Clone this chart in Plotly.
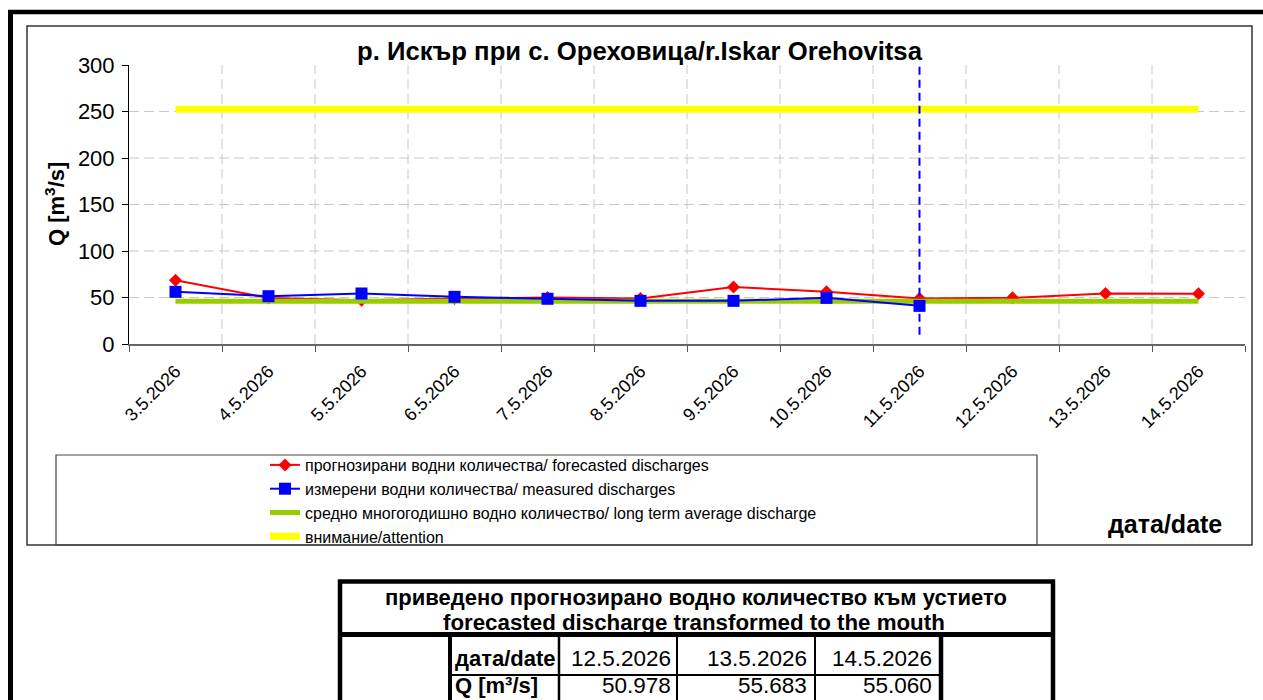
import plotly.graph_objects as go

# ---------------- data ----------------
dates = ["3.5.2026", "4.5.2026", "5.5.2026", "6.5.2026", "7.5.2026", "8.5.2026",
         "9.5.2026", "10.5.2026", "11.5.2026", "12.5.2026", "13.5.2026", "14.5.2026"]
forecast = [68.5, 49.5, 47.0, 49.0, 50.0, 49.0, 61.4, 56.1, 48.9, 49.6, 54.3, 53.9]
measured = [56.1, 51.4, 54.3, 50.7, 48.6, 46.4, 46.4, 49.6, 41.0, None, None, None]
average = [46.0, 46.0, 46.0, 46.0, 46.0, 46.0, 46.0, 46.0, 46.0, 46.0, 46.0, 46.0]
attention = [252.5, 252.5, 252.5, 252.5, 252.5, 252.5, 252.5, 252.5, 252.5, 252.5, 252.5, 252.5]
today = "11.5.2026"
today_span = [10, 300]

table_dates = ["12.5.2026", "13.5.2026", "14.5.2026"]
table_q = ["50.978", "55.683", "55.060"]

names = ["прогнозирани водни количества/ forecasted discharges",
         "измерени водни количества/ measured discharges",
         "средно многогодишно водно количество/ long term average discharge",
         "внимание/attention"]

# ---------------- layout geometry (pixels) ----------------
W, H = 1263, 700
L, R, T, B = 129, 1245, 65, 344


def px(x):
    return (x - L) / (R - L)


def py(y):
    return (B - y) / (B - T)


FONT = "Arial, Liberation Sans, sans-serif"

fig = go.Figure()

fig.add_trace(go.Scatter(x=dates, y=attention, mode="lines", name=names[3],
                         line=dict(color="#ffff00", width=7), legendrank=4))
fig.add_trace(go.Scatter(x=dates, y=forecast, mode="lines+markers", name=names[0],
                         line=dict(color="#ff0000", width=2),
                         marker=dict(symbol="diamond", size=10, color="#ff0000"),
                         legendrank=1))
fig.add_trace(go.Scatter(x=dates, y=average, mode="lines", name=names[2],
                         line=dict(color="#99cc00", width=5), legendrank=3))
fig.add_trace(go.Scatter(x=dates, y=measured, mode="lines+markers", name=names[1],
                         line=dict(color="#0000ff", width=2),
                         marker=dict(symbol="square", size=12, color="#0000ff"),
                         legendrank=2))
fig.add_trace(go.Scatter(x=[today, today], y=today_span, mode="lines", showlegend=False,
                         line=dict(color="#0000ff", width=2, dash="8px,5px"),
                         hoverinfo="skip"))

fig.update_layout(
    width=W, height=H,
    margin=dict(l=L, r=W - R, t=T, b=H - B),
    paper_bgcolor="white", plot_bgcolor="white",
    font=dict(family=FONT, color="black"),
    showlegend=True,
    legend=dict(x=px(265), y=py(448), xanchor="left", yanchor="top",
                font=dict(size=16, family=FONT), bgcolor="rgba(0,0,0,0)",
                traceorder="normal"),
)

fig.update_xaxes(type="category", range=[-0.5, 11.5], tickson="boundaries",
                 ticks="outside", ticklen=6, tickcolor="#555555", tickwidth=1,
                 showline=True, linecolor="#666666", linewidth=1.5,
                 showgrid=False,
                 tickangle=-45, tickfont=dict(size=18, family=FONT),
                 ticklabelstandoff=8)
fig.update_yaxes(range=[0, 300], dtick=50, ticks="outside", ticklen=6,
                 tickcolor="black", showline=True, linecolor="black", linewidth=1,
                 showgrid=False, zeroline=False, tickfont=dict(size=22, family=FONT),
                 ticklabelstandoff=3)

shapes = []
GRID = dict(color="#c8c8c8", width=1, dash="10px,5px")
# horizontal dashed grid
for v in [50, 100, 150, 200, 250]:
    shapes.append(dict(type="line", xref="paper", yref="y", x0=0, x1=1, y0=v, y1=v,
                       line=GRID, layer="below"))
# vertical dashed grid at category boundaries (interior only)
for k in range(1, len(dates)):
    shapes.append(dict(type="line", xref="x", yref="paper", x0=k - 0.5, x1=k - 0.5,
                       y0=0, y1=1, line=GRID, layer="below"))


def pline(x0, y0, x1, y1, w, c="black"):
    shapes.append(dict(type="line", xref="paper", yref="paper",
                       x0=px(x0), y0=py(y0), x1=px(x1), y1=py(y1),
                       line=dict(color=c, width=w)))


def prect(x0, y0, x1, y1, w, c="black"):
    shapes.append(dict(type="rect", xref="paper", yref="paper",
                       x0=px(x0), y0=py(y0), x1=px(x1), y1=py(y1),
                       line=dict(color=c, width=w)))


# outer thick frame
pline(8, 12, 1263, 12, 4.5)
pline(10.5, 10, 10.5, 705, 5)
# chart area
prect(27, 26, 1252, 545, 1.5, "#333333")
# legend box
prect(56, 455, 1037, 545, 1.2, "#444444")
# table
prect(340, 581.5, 1053, 720, 4.5)
pline(340, 634.5, 1053, 634.5, 5)
pline(450, 634, 450, 720, 4)
pline(559, 634, 559, 720, 2.5)
pline(677, 634, 677, 720, 2)
pline(815, 634, 815, 720, 2)
pline(941, 634, 941, 720, 4.5)
pline(450, 675, 941, 675, 2)

fig.update_layout(shapes=shapes)

ann = []


def ptext(x, y, text, size, bold=False, xanchor="center", yanchor="middle", angle=0):
    ann.append(dict(xref="paper", yref="paper", x=px(x), y=py(y), text=text,
                    showarrow=False, xanchor=xanchor, yanchor=yanchor, textangle=angle,
                    font=dict(size=size, family=FONT, color="black",
                              weight="bold" if bold else "normal")))


ptext(640, 51, "р. Искър при с. Ореховица/r.Iskar Orehovitsa", 25.7, bold=True)
ptext(55, 204, "Q [m<sup>3</sup>/s]", 22, bold=True, angle=-90)
ptext(1165, 524, "дата/date", 25, bold=True)

ptext(696, 597, "приведено прогнозирано водно количество към устието", 22, bold=True)
ptext(694, 622, "forecasted discharge transformed to the mouth", 22.3, bold=True)
ptext(453, 658.5, "дата/date", 22, bold=True, xanchor="left")
ptext(453, 700, "Q [m³/s]", 22, bold=True, xanchor="left", yanchor="bottom")
xr = [673, 809, 934]
for i in range(3):
    ptext(xr[i], 658.5, table_dates[i], 22.5, xanchor="right")
    ptext(xr[i], 700, table_q[i], 22.5, xanchor="right", yanchor="bottom")

fig.update_layout(annotations=ann)

fig.write_html(
    "out.html",
    config={"displayModeBar": False},
    post_script="document.body.style.margin='0';document.body.style.overflow='hidden';",
)
